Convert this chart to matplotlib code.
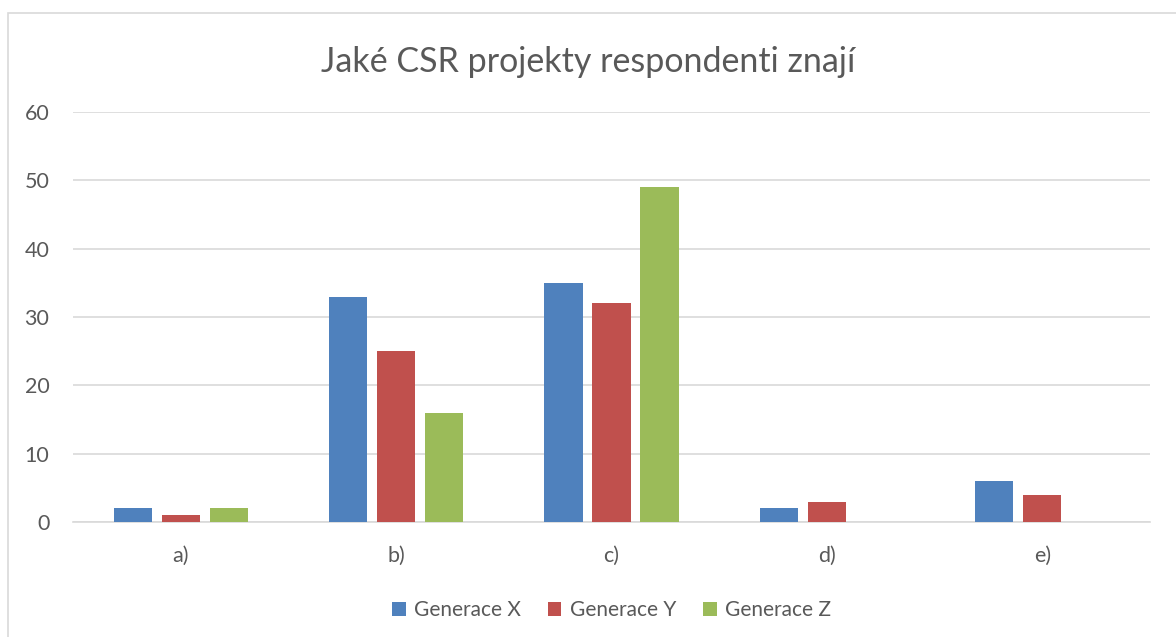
import matplotlib.pyplot as plt
import numpy as np
from matplotlib.patches import Rectangle

categories = ['a)', 'b)', 'c)', 'd)', 'e)']
gen_x = [2, 33, 35, 2, 6]
gen_y = [1, 25, 32, 3, 4]
gen_z = [2, 16, 49, 0, 0]
series_names = ['Generace X', 'Generace Y', 'Generace Z']
colors = ['#4F81BD', '#C0504D', '#9BBB59']

plt.rcParams['font.family'] = ['Lato', 'DejaVu Sans']
text_color = '#595959'

fig = plt.figure(figsize=(11.76, 6.37), dpi=100)
ax = fig.add_axes([0.062, 0.1805, 0.916, 0.6435])

# outer chart frame
fig.patches.append(Rectangle((8 / 1176, -0.01), 1.2, 1 - 13 / 637 + 0.01,
                             transform=fig.transFigure, fill=False,
                             edgecolor='#D9D9D9', linewidth=1.2))

x = np.arange(len(categories))
width = 0.177
step = 0.223
for i, (vals, name) in enumerate(zip([gen_x, gen_y, gen_z], series_names)):
    ax.bar(x + (i - 1) * step, vals, width, color=colors[i], label=name, zorder=3)

ax.set_xlim(-0.5, len(categories) - 0.5)
ax.set_ylim(0, 60)
ax.set_yticks(range(0, 61, 10))
ax.set_xticks(x)
ax.set_xticklabels(categories)
ax.grid(axis='y', color='#D9D9D9', linewidth=1.2, zorder=0)
for s in ['top', 'right', 'left']:
    ax.spines[s].set_visible(False)
ax.spines['bottom'].set_color('#D9D9D9')
ax.spines['bottom'].set_linewidth(1.2)
ax.tick_params(axis='both', length=0, labelsize=15.5, colors=text_color)
ax.tick_params(axis='y', pad=17)
ax.tick_params(axis='x', pad=17)

fig.text(0.5, 1 - 62 / 637, 'Jaké CSR projekty respondenti znají', ha='center',
         va='center', fontsize=24.5, color=text_color)

ax.legend(loc='center', bbox_to_anchor=(0.5, -0.215), ncol=3, frameon=False,
          fontsize=15, labelcolor=text_color, handlelength=0.65,
          handleheight=0.65, handletextpad=0.4, columnspacing=1.3)

fig.savefig('out.png', dpi=100)
